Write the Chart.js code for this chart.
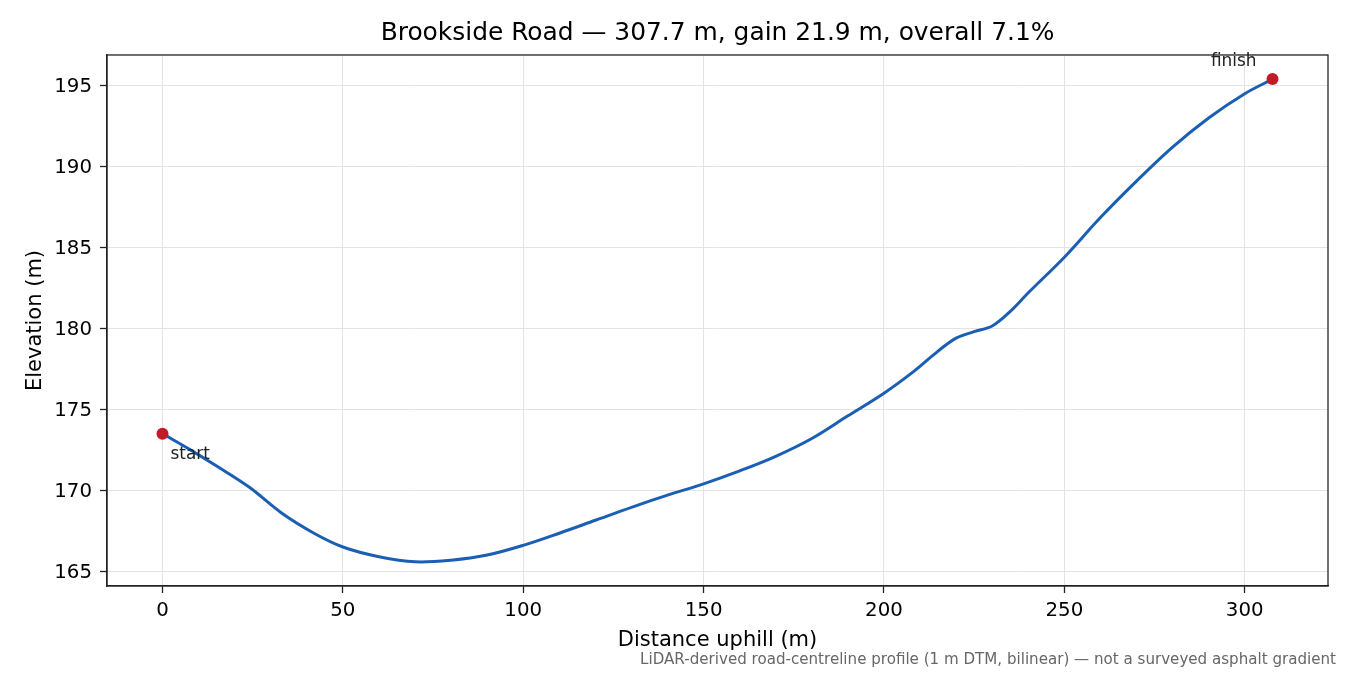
<!DOCTYPE html>
<html>
<head>
<meta charset="utf-8">
<script src="https://cdn.jsdelivr.net/npm/chart.js@4.4.1/dist/chart.umd.min.js"></script>
<style>
  body { margin: 0; background: #fff; }
  canvas { display: block; }
</style>
</head>
<body>
<canvas id="profile" width="1350" height="675"></canvas>
<script>
// distance along the road (m) and elevation (m)
const distances = [0, 7.5, 15, 24, 33, 42, 50, 60, 70, 80, 90, 100, 110, 120, 130, 140, 150, 160, 170, 180, 190,
  200, 208, 215, 220, 225, 230, 235, 240, 250, 260, 270, 280, 290, 300, 307.7];
const elevations = [173.5, 172.53, 171.5, 170.2, 168.6, 167.35, 166.5, 165.9, 165.58, 165.68, 166.0, 166.6, 167.35,
  168.15, 168.95, 169.7, 170.4, 171.2, 172.1, 173.2, 174.6, 176.0, 177.3, 178.6, 179.4, 179.8, 180.15,
  181.05, 182.2, 184.4, 186.85, 189.1, 191.2, 193.0, 194.5, 195.4];

const endLabels = ['start', 'finish'];
const xTickStep = 50;
const yTickStep = 5;

const titleText = 'Brookside Road \u2014 307.7 m, gain 21.9 m, overall 7.1%';
const footerText = 'LiDAR-derived road-centreline profile (1 m DTM, bilinear) \u2014 not a surveyed asphalt gradient';

const lineColor = '#1a5fb4';
const dotColor = '#c01c28';

// matplotlib-style 5% margins
const xSpan = distances[distances.length - 1] - distances[0];
const yMin = Math.min(...elevations), yMax = Math.max(...elevations);
const ySpan = yMax - yMin;

const profilePoints = distances.map((d, i) => ({ x: d, y: elevations[i] }));
const last = distances.length - 1;
const endPoints = [
  { x: distances[0], y: elevations[0] },
  { x: distances[last], y: elevations[last] },
];

Chart.defaults.font.family = 'DejaVu Sans';
Chart.defaults.color = '#000';

// box round the plot, start/finish notes, and the footnote
const frameAndNotes = {
  id: 'frameAndNotes',
  afterDatasetsDraw(chart) {
    const { ctx, chartArea: a, scales } = chart;
    ctx.save();
    ctx.strokeStyle = '#222';
    ctx.lineWidth = 1.3;
    ctx.strokeRect(a.left, a.top, a.right - a.left, a.bottom - a.top);

    ctx.fillStyle = '#222';
    ctx.font = '16.9px "DejaVu Sans"';
    ctx.textBaseline = 'alphabetic';
    const sx = scales.x.getPixelForValue(endPoints[0].x);
    const sy = scales.y.getPixelForValue(endPoints[0].y);
    ctx.textAlign = 'left';
    ctx.fillText(endLabels[0], sx + 8, sy + 25);
    const fx = scales.x.getPixelForValue(endPoints[1].x);
    const fy = scales.y.getPixelForValue(endPoints[1].y);
    ctx.textAlign = 'right';
    ctx.fillText(endLabels[1], fx - 16, fy - 13);

    ctx.fillStyle = '#666';
    ctx.font = '15.1px "DejaVu Sans"';
    ctx.textBaseline = 'middle';
    ctx.fillText(footerText, 1336, 660);
    ctx.restore();
  }
};

new Chart(document.getElementById('profile'), {
  type: 'line',
  data: {
    datasets: [
      {
        label: 'ends',
        data: endPoints,
        showLine: false,
        pointRadius: 6,
        pointHoverRadius: 6,
        pointBackgroundColor: dotColor,
        pointBorderColor: dotColor,
        pointBorderWidth: 0,
        order: 0,
      },
      {
        label: 'profile',
        data: profilePoints,
        borderColor: lineColor,
        borderWidth: 3,
        pointRadius: 0,
        fill: false,
        tension: 0.35,
        order: 1,
      },
    ],
  },
  options: {
    responsive: false,
    devicePixelRatio: 1,
    animation: false,
    layout: { padding: { left: 0, right: 22, top: 0, bottom: 0 } },
    plugins: {
      legend: { display: false },
      tooltip: { enabled: false },
      title: {
        display: true,
        text: titleText,
        fullSize: false,
        color: '#000',
        font: { size: 24.9, weight: 'normal' },
        padding: { top: 18.6, bottom: 6.5 },
      },
    },
    scales: {
      x: {
        type: 'linear',
        min: distances[0] - 0.05 * xSpan,
        max: distances[last] + 0.05 * xSpan,
        afterFit(scale) {
          scale.height = 89;
          scale.paddingLeft = 0;
          scale.paddingRight = 0;
        },
        ticks: {
          stepSize: xTickStep,
          includeBounds: false,
          maxRotation: 0,
          padding: 6,
          color: '#000',
          font: { size: 19.8 },
        },
        grid: { color: '#e3e3e3', lineWidth: 1, tickLength: 7, tickColor: '#222', tickWidth: 1.3 },
        border: { display: true, color: '#222', width: 1.3 },
        title: {
          display: true,
          text: 'Distance uphill (m)',
          color: '#000',
          font: { size: 21 },
          padding: { top: 0, bottom: 22 },
        },
      },
      y: {
        type: 'linear',
        min: yMin - 0.05 * ySpan,
        max: yMax + 0.05 * ySpan,
        afterFit(scale) {
          scale.width = 107;
          scale.paddingTop = 0;
          scale.paddingBottom = 0;
        },
        ticks: {
          stepSize: yTickStep,
          includeBounds: false,
          padding: 8,
          labelOffset: 1.5,
          color: '#000',
          font: { size: 19.8 },
        },
        grid: { color: '#e3e3e3', lineWidth: 1, tickLength: 7, tickColor: '#222', tickWidth: 1.3 },
        border: { display: true, color: '#222', width: 1.3 },
        title: {
          display: true,
          text: 'Elevation (m)',
          color: '#000',
          font: { size: 21 },
          padding: { top: 23, bottom: 0 },
        },
      },
    },
  },
  plugins: [frameAndNotes],
});
</script>
</body>
</html>
